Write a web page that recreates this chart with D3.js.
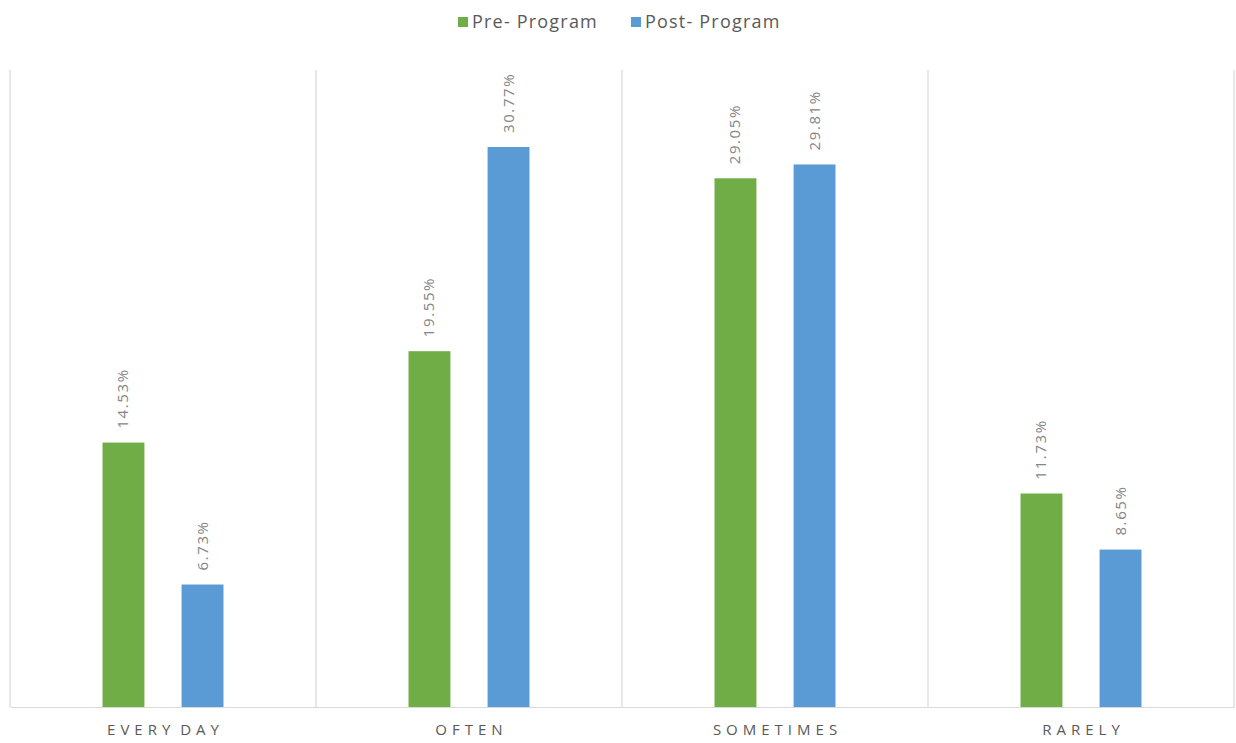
<!DOCTYPE html>
<html>
<head>
<meta charset="utf-8">
<script src="https://cdn.jsdelivr.net/npm/d3@7/dist/d3.min.js"></script>
<style>
  html, body { margin: 0; padding: 0; background: #fff; }
  svg { display: block; }
</style>
</head>
<body>
<script>
// Frequency categories and the share of respondents in each, before and after the program
const categories = ["EVERY DAY", "OFTEN", "SOMETIMES", "RARELY"];
const seriesNames = ["Pre- Program", "Post- Program"];
const preProgram = [14.53, 19.55, 29.05, 11.73];
const postProgram = [6.73, 30.77, 29.81, 8.65];
const yMax = 35;

const W = 1236, H = 743;
const margin = { top: 70, right: 2, bottom: 36, left: 10 };
const colors = ["#70AD47", "#5B9BD5"];
const fontFamily = "'Open Sans', 'Liberation Sans', sans-serif";

const svg = d3.select("body").append("svg").attr("width", W).attr("height", H);

const x0 = d3.scaleBand().domain(categories)
  .range([margin.left, W - margin.right]).paddingInner(0).paddingOuter(0);
const x1 = d3.scaleBand().domain(seriesNames)
  .range([0, x0.bandwidth()]).paddingInner(0.47).paddingOuter(1.17);
const y = d3.scaleLinear().domain([0, yMax]).range([H - margin.bottom, margin.top]);

// Category separators (vertical gridlines at band edges)
const edges = categories.map(c => x0(c)).concat([x0.range()[1]]);
svg.append("g").selectAll("line").data(edges).join("line")
  .attr("x1", d => d).attr("x2", d => d)
  .attr("y1", y(yMax)).attr("y2", y(0))
  .attr("stroke", "#d9d9d9").attr("stroke-width", 1.2);

// Bars
const rows = categories.map((c, i) => ({ cat: c, vals: [preProgram[i], postProgram[i]] }));
const groups = svg.append("g").selectAll("g").data(rows).join("g")
  .attr("transform", d => `translate(${x0(d.cat)},0)`);

groups.selectAll("rect").data(d => d.vals.map((v, k) => ({ v, k })))
  .join("rect")
  .attr("x", d => x1(seriesNames[d.k]))
  .attr("width", x1.bandwidth())
  .attr("y", d => y(d.v))
  .attr("height", d => y(0) - y(d.v))
  .attr("fill", d => colors[d.k]);

// Rotated value labels above the bars
groups.selectAll("text").data(d => d.vals.map((v, k) => ({ v, k })))
  .join("text")
  .attr("transform", d => `translate(${x1(seriesNames[d.k]) + x1.bandwidth() / 2 + 5},${y(d.v) - 14}) rotate(-90)`)
  .attr("text-anchor", "start")
  .attr("font-family", fontFamily)
  .attr("font-size", 15)
  .attr("letter-spacing", "1.6px")
  .attr("fill", "#858585")
  .text(d => d.v.toFixed(2) + "%");

// Baseline axis with category labels
const xAxis = svg.append("g")
  .attr("transform", `translate(0,${y(0)})`)
  .call(d3.axisBottom(x0).tickSize(0).tickPadding(17));
xAxis.select(".domain").attr("stroke", "#d9d9d9").attr("stroke-width", 1.2);
xAxis.selectAll("text")
  .attr("font-family", fontFamily)
  .attr("font-size", 15)
  .attr("fill", "#595959")
  .attr("letter-spacing", "5px")
  .attr("word-spacing", "-4px")
  .attr("dx", "2.5px");

// Legend
const legend = svg.append("g").attr("transform", "translate(458,22)");
const legendItems = [{ name: seriesNames[0], x: 0 }, { name: seriesNames[1], x: 173 }];
legendItems.forEach((it, k) => {
  const g = legend.append("g").attr("transform", `translate(${it.x},0)`);
  g.append("rect").attr("x", 0).attr("y", -5).attr("width", 10).attr("height", 10).attr("fill", colors[k]);
  g.append("text").attr("x", 14).attr("y", 0).attr("dy", "0.35em")
    .attr("font-family", fontFamily).attr("font-size", 18).attr("fill", "#595959")
    .attr("letter-spacing", "1.2px")
    .text(it.name);
});
</script>
</body>
</html>
